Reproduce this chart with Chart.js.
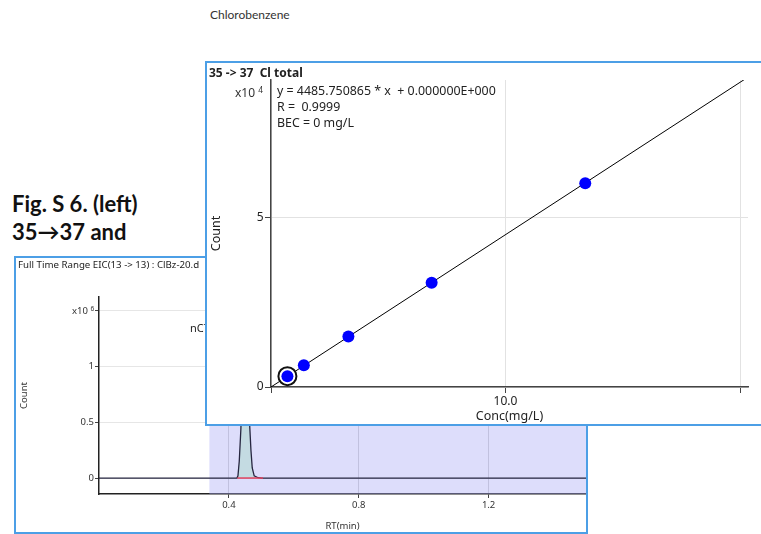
<!DOCTYPE html>
<html>
<head>
<meta charset="utf-8">
<script src="https://cdn.jsdelivr.net/npm/chart.js@4/dist/chart.umd.min.js"></script>
<style>
  html, body { margin: 0; padding: 0; width: 761px; height: 534px; overflow: hidden; background: #fff; }
  body { position: relative; font-family: 'Noto Sans', sans-serif; color: #222; }
  .abs { position: absolute; white-space: nowrap; }
  #page-title { left: 210px; top: 7px; font: 12px Lato, sans-serif; line-height: 16px; color: #333; }
  #fig-caption { left: 12px; top: 190px; font: bold 22px Lato, sans-serif; line-height: 28px; color: #111; }
  .box { position: absolute; border: 2px solid #4c9fe6; background: #fff; }
  #eic-box { left: 14px; top: 256px; width: 570px; height: 274px; z-index: 1; }
  #cal-box { left: 205px; top: 61px; width: 570px; height: 361px; z-index: 2; }
  canvas { position: absolute; left: 0; top: 0; }
  sup { font-size: 70%; vertical-align: 0; position: relative; top: -0.45em; }
</style>
</head>
<body>
<div id="page-title" class="abs">Chlorobenzene</div>
<div id="fig-caption" class="abs">Fig. S 6. (left)<br>35&#x2192;37 and</div>

<div id="eic-box" class="box">
  <canvas id="eicChart" width="570" height="274"></canvas>
  <div class="abs" style="left:2px;top:1px;font-size:9.7px;line-height:12px;">Full Time Range EIC(13 -&gt; 13) : ClBz-20.d</div>
  <div class="abs" style="left:56px;top:47px;font-size:9.5px;line-height:12px;color:#333;">x10 <sup>6</sup></div>
  <div class="abs" style="left:174px;top:63px;font-size:11px;line-height:14px;">nC7</div>
</div>

<div id="cal-box" class="box">
  <canvas id="calChart" width="554" height="361"></canvas>
  <div class="abs" style="left:2px;top:2px;font-weight:bold;font-size:12px;line-height:16px;">35 -&gt; 37&nbsp; Cl total</div>
  <div class="abs" style="left:28px;top:22px;font-size:12px;line-height:16px;color:#333;">x10 <sup>4</sup></div>
  <div class="abs" style="left:70px;top:20px;font-size:12.4px;line-height:16px;">y = 4485.750865 * x&nbsp; + 0.000000E+000<br>R =&nbsp; 0.9999<br>BEC = 0 mg/L</div>
</div>

<script>
Chart.defaults.font.family = "'Noto Sans', sans-serif";
Chart.defaults.color = '#222';

// calibration curve (35 -> 37 Cl total)
const concX = [0.7, 1.4, 3.3, 6.85, 13.4];
const countY = [3200, 6400, 14900, 30700, 60000];
const fitX = [0, 20.3];
const fitY = [0, 91062];
const calXTicks = [0, 10, 20];
const calXLabels = ['', '10.0', ''];
const calYTicks = [0, 50000];
const calYLabels = ['0', '5'];

// EIC chromatogram
const rtTime = [0, 0.425, 0.428, 0.432, 0.437, 0.441, 0.446, 0.45, 0.455, 0.46, 0.464, 0.468, 0.472, 0.478, 0.49, 0.5, 1.5];
const eicCount = [0, 0, 20000, 150000, 440000, 800000, 1150000, 1250000, 1120000, 750000, 480000, 250000, 90000, 20000, 3000, 0, 0];
const baseTime = [0.426, 0.505];
const baseCount = [0, 0];
const shadeRange = [0.34, 1.5];
const eicXTicks = [0.4, 0.8, 1.2];
const eicXLabels = ['0.4', '0.8', '1.2'];
const eicYTicks = [0, 500000, 1000000, 1500000];
const eicYLabels = ['0', '0.5', '1', ''];

const toPoints = (xs, ys) => xs.map((x, i) => ({ x: x, y: ys[i] }));

// shaded time window behind the trace
const shadePlugin = {
  id: 'shade',
  beforeDatasetsDraw(chart) {
    const { ctx, chartArea, scales } = chart;
    const x0 = scales.x.getPixelForValue(shadeRange[0]);
    const x1 = scales.x.getPixelForValue(shadeRange[1]);
    ctx.save();
    ctx.fillStyle = 'rgba(170,170,245,0.4)';
    ctx.fillRect(x0, chartArea.top, x1 - x0, chartArea.bottom - chartArea.top);
    ctx.restore();
  }
};

new Chart(document.getElementById('eicChart'), {
  type: 'scatter',
  data: {
    datasets: [
      {
        data: toPoints(baseTime, baseCount),
        showLine: true,
        borderColor: '#e0405c',
        borderWidth: 1.5,
        pointRadius: 0
      },
      {
        data: toPoints(rtTime, eicCount),
        showLine: true,
        borderColor: '#262640',
        borderWidth: 1.3,
        pointRadius: 0,
        fill: 'origin',
        backgroundColor: '#c4dbe2'
      }
    ]
  },
  options: {
    responsive: false,
    animation: false,
    layout: { padding: { top: 39, right: 0, left: 0, bottom: 0 } },
    plugins: { legend: { display: false }, tooltip: { enabled: false } },
    scales: {
      x: {
        type: 'linear',
        min: 0,
        max: 1.5,
        afterBuildTicks: s => { s.ticks = eicXTicks.map(v => ({ value: v })); },
        afterFit: s => { s.height = 38; },
        ticks: { callback: (v, i) => eicXLabels[i], font: { size: 9.5 }, color: '#333', padding: 2, maxRotation: 0, autoSkip: false },
        grid: { color: '#d0d0d0', tickLength: 4, tickColor: '#444' },
        border: { color: '#222', width: 1.5 },
        title: { display: true, text: 'RT(min)', font: { size: 9.5 }, color: '#333', padding: 0 }
      },
      y: {
        min: -143000,
        max: 1623000,
        afterBuildTicks: s => { s.ticks = eicYTicks.map(v => ({ value: v })); },
        afterFit: s => { s.width = 83; },
        ticks: { callback: (v, i) => eicYLabels[i], font: { size: 9.5 }, color: '#333', padding: 1 },
        grid: { color: '#e6e6e6', tickLength: 4, tickColor: '#444' },
        border: { color: '#222', width: 1.5 },
        title: { display: true, text: 'Count', font: { size: 9.5 }, color: '#333', padding: { top: 3, bottom: 0 } }
      }
    }
  },
  plugins: [shadePlugin]
});

new Chart(document.getElementById('calChart'), {
  type: 'scatter',
  data: {
    datasets: [
      {
        data: toPoints(concX, countY),
        backgroundColor: '#0000ff',
        borderColor: '#0000ff',
        pointRadius: 6,
        borderWidth: 0
      },
      {
        data: toPoints(concX.slice(0, 1), countY.slice(0, 1)),
        backgroundColor: '#ffffff',
        borderColor: '#111111',
        borderWidth: 2,
        pointRadius: 9
      },
      {
        data: toPoints(fitX, fitY),
        showLine: true,
        borderColor: '#000',
        borderWidth: 1,
        pointRadius: 0
      }
    ]
  },
  options: {
    responsive: false,
    animation: false,
    layout: { padding: { top: 17, right: 13, left: 0, bottom: 0 } },
    plugins: { legend: { display: false }, tooltip: { enabled: false } },
    scales: {
      x: {
        type: 'linear',
        min: 0,
        max: 20.34,
        afterBuildTicks: s => { s.ticks = calXTicks.map(v => ({ value: v })); },
        afterFit: s => { s.height = 37; },
        ticks: { callback: (v, i) => calXLabels[i], font: { size: 12 }, color: '#222', padding: 1, maxRotation: 0, autoSkip: false },
        grid: { color: '#e2e2e2', tickLength: 6, tickColor: '#444' },
        border: { color: '#444', width: 1.5 },
        title: { display: true, text: 'Conc(mg/L)', font: { size: 12.5 }, color: '#222', padding: 0 }
      },
      y: {
        min: 0,
        max: 90400,
        afterBuildTicks: s => { s.ticks = calYTicks.map(v => ({ value: v })); },
        afterFit: s => { s.width = 64; },
        ticks: { callback: (v, i) => calYLabels[i], font: { size: 12 }, color: '#222', padding: 1.5 },
        grid: { color: '#e2e2e2', tickLength: 6, tickColor: '#444' },
        border: { color: '#444', width: 1.5 },
        title: { display: true, text: 'Count', font: { size: 12.5 }, color: '#222', padding: { top: 1.5, bottom: 0 } }
      }
    }
  }
});
</script>
</body>
</html>
